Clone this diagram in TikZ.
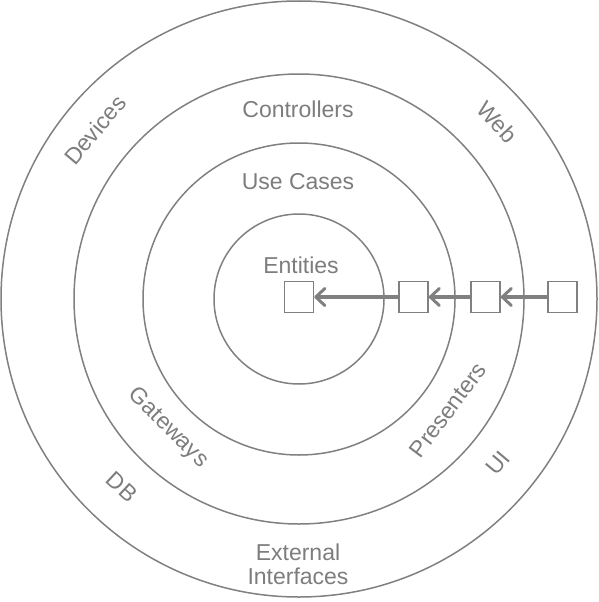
\documentclass[tikz,border=0pt]{standalone}
\usepackage{fontspec}
\setmainfont{Liberation Sans}
\usetikzlibrary{arrows.meta}
\definecolor{ln}{RGB}{128,128,128}
\definecolor{tx}{RGB}{125,125,125}
\tikzset{
  ring/.style={draw=ln, line width=1.5pt},
  lbl/.style={text=tx, font=\fontsize{23pt}{24pt}\selectfont, inner sep=0pt},
  sq/.style={draw=ln, line width=1.6pt, minimum width=29pt, minimum height=31pt, inner sep=0pt},
  dep/.style={draw=ln, line width=3.5pt, -{Straight Barb[length=9pt, width=17pt, line width=3pt, round]}}
}
\begin{document}
\begin{tikzpicture}[x=1pt, y=-1pt]
\useasboundingbox (0,0) rectangle (598,602);
\coordinate (c) at (299,299);
\draw[ring] (c) circle[radius=298];
\draw[ring] (c) circle[radius=225];
\draw[ring] (c) circle[radius=156];
\draw[ring] (c) circle[radius=85];

\node[lbl] (controllers) at (298,109) {Controllers};
\node[lbl] (usecases) at (298,182) {Use Cases};
\node[lbl] (entities) at (301,265) {Entities};
\node[lbl, rotate=50] (devices) at (95,130) {Devices};
\node[lbl, rotate=-48] (web) at (497,122) {Web};
\node[lbl, rotate=53] (presenters) at (448,410) {Presenters};
\node[lbl, rotate=50] (ui) at (498,463) {UI};
\node[lbl, rotate=-45] (gateways) at (168,428) {Gateways};
\node[lbl, rotate=-43] (db) at (122,487) {DB};
\node[lbl, align=center] (ext) at (298,564) {External\\Interfaces};

\node[sq] (b1) at (299,297) {};
\node[sq] (b2) at (413.5,297) {};
\node[sq] (b3) at (485.5,297) {};
\node[sq] (b4) at (562.5,297) {};

\draw[dep] (b2.west) -- (b1.east);
\draw[dep] (b3.west) -- (b2.east);
\draw[dep] (b4.west) -- (b3.east);
\end{tikzpicture}
\end{document}
